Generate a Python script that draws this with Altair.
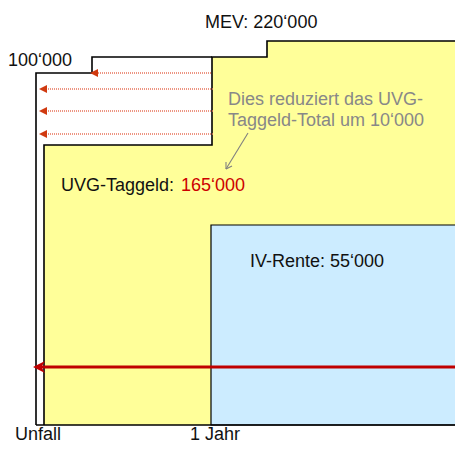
import altair as alt
import pandas as pd

# ---- schematic data (x = time axis units, y = amount axis units as drawn) ----
# yellow UVG-Taggeld area (three stacked steps)
yellow_x = [44, 212, 267]
yellow_x2 = [212, 267, 463]
yellow_y = [145, 57, 41]
yellow_y2 = [425, 425, 425]

# blue IV-Rente block
blue_x = [211]
blue_x2 = [463]
blue_y = [225]
blue_y2 = [425]

# outlines
outline_white_x = [36, 36, 92, 92, 212]
outline_white_y = [425, 73, 73, 57, 57]
outline_yellow_x = [44, 44, 212, 212, 267, 267, 463]
outline_yellow_y = [425, 145, 145, 57, 57, 41, 41]
baseline_x = [36, 463]
baseline_y = [425, 425]

# dotted reduction arrows
dotted_y = [73, 89, 111, 134]
dotted_from = [211, 213, 213, 213]
dotted_to = [96, 45, 45, 45]
dotted_head = [94, 43, 43, 43]

# main red arrow
main_y = [367, 367]
main_x = [463, 40]
main_head_x = [39]
main_head_y = [367]

# grey annotation arrow
note_x = [248, 226, 226, 226, 226, 232]
note_y = [133, 169, 169, 162, 169, 166]
note_seg = [0, 0, 1, 1, 2, 2]

# labels
label_text = ["MEV: 220\u2018000", "100\u2018000", "UVG-Taggeld: ", "IV-Rente: 55\u2018000",
              "Unfall", "1 Jahr"]
label_x = [205, 8, 61, 250, 15, 190]
label_y = [28, 66, 191, 267, 440, 440]

note_text = ["Dies reduziert das UVG-", "Taggeld-Total um 10\u2018000"]
note_tx = [228, 228]
note_ty = [105, 126]

red_text = ["165\u2018000"]
red_x = [181]
red_y = [191]

# ---- scales ----
X = alt.Scale(domain=[8, 455], nice=False, zero=False)
Y = alt.Scale(domain=[8, 444], nice=False, zero=False, reverse=True)
FONT = "Liberation Sans"


def xe(f="x"):
    return alt.X(f"{f}:Q", scale=X, axis=None)


def ye(f="y"):
    return alt.Y(f"{f}:Q", scale=Y, axis=None)


yellow = alt.Chart(pd.DataFrame({"x": yellow_x, "x2": yellow_x2, "y": yellow_y, "y2": yellow_y2})).mark_rect(
    color="#FFFF99", strokeWidth=0
).encode(x=xe(), x2="x2:Q", y=ye(), y2="y2:Q")

blue = alt.Chart(pd.DataFrame({"x": blue_x, "x2": blue_x2, "y": blue_y, "y2": blue_y2})).mark_rect(
    fill="#CCECFF", stroke="#000000", strokeWidth=1.2
).encode(x=xe(), x2="x2:Q", y=ye(), y2="y2:Q")

def path_df(xs, ys, name):
    return pd.DataFrame({"x": xs, "y": ys, "i": list(range(len(xs))), "p": name})

outlines_df = pd.concat([
    path_df(outline_white_x, outline_white_y, "white"),
    path_df(outline_yellow_x, outline_yellow_y, "yellow"),
    path_df(baseline_x, baseline_y, "base"),
])
outlines = alt.Chart(outlines_df).mark_line(color="#000000", strokeWidth=1.6).encode(
    x=xe(), y=ye(), order="i:Q", detail="p:N"
)

dotted_df = pd.DataFrame({"x": dotted_from, "x2": dotted_to, "y": dotted_y})
dotted = alt.Chart(dotted_df).mark_rule(color="#E8735A", strokeWidth=1.6, strokeDash=[1, 1]).encode(
    x=xe(), x2="x2:Q", y=ye()
)
dotted_heads = alt.Chart(pd.DataFrame({"x": dotted_head, "y": dotted_y})).mark_point(
    shape="M -1 0 L 1 -1 L 1 1 Z", size=64, filled=True, color="#D03A10", opacity=1
).encode(x=xe(), y=ye())

main_line = alt.Chart(pd.DataFrame({"x": main_x, "y": main_y, "i": [0, 1]})).mark_line(
    color="#C00000", strokeWidth=3
).encode(x=xe(), y=ye(), order="i:Q")
main_head = alt.Chart(pd.DataFrame({"x": main_head_x, "y": main_head_y})).mark_point(
    shape="M -1 0 L 1 -1 L 0.4 0 L 1 1 Z", size=144, filled=True, color="#C00000", opacity=1
).encode(x=xe(), y=ye())

note_arrow = alt.Chart(pd.DataFrame({"x": note_x, "y": note_y, "s": note_seg,
                                     "i": list(range(len(note_x)))})).mark_line(
    color="#808080", strokeWidth=1.1
).encode(x=xe(), y=ye(), detail="s:N", order="i:Q")

labels = alt.Chart(pd.DataFrame({"t": label_text, "x": label_x, "y": label_y})).mark_text(
    align="left", baseline="alphabetic", font=FONT, fontSize=18, color="#111111"
).encode(x=xe(), y=ye(), text="t:N")

notes = alt.Chart(pd.DataFrame({"t": note_text, "x": note_tx, "y": note_ty})).mark_text(
    align="left", baseline="alphabetic", font=FONT, fontSize=18, color="#888888"
).encode(x=xe(), y=ye(), text="t:N")

red_label = alt.Chart(pd.DataFrame({"t": red_text, "x": red_x, "y": red_y})).mark_text(
    align="left", baseline="alphabetic", font=FONT, fontSize=18, color="#CC0000"
).encode(x=xe(), y=ye(), text="t:N")

chart = alt.layer(
    yellow, blue, outlines, dotted, dotted_heads, main_line, main_head, note_arrow,
    labels, notes, red_label
).properties(
    width=447, height=436, padding=0, autosize=alt.AutoSizeParams(type="none")
).configure_view(stroke=None)

chart.save("out.html", embed_options={"renderer": "svg", "actions": False})
